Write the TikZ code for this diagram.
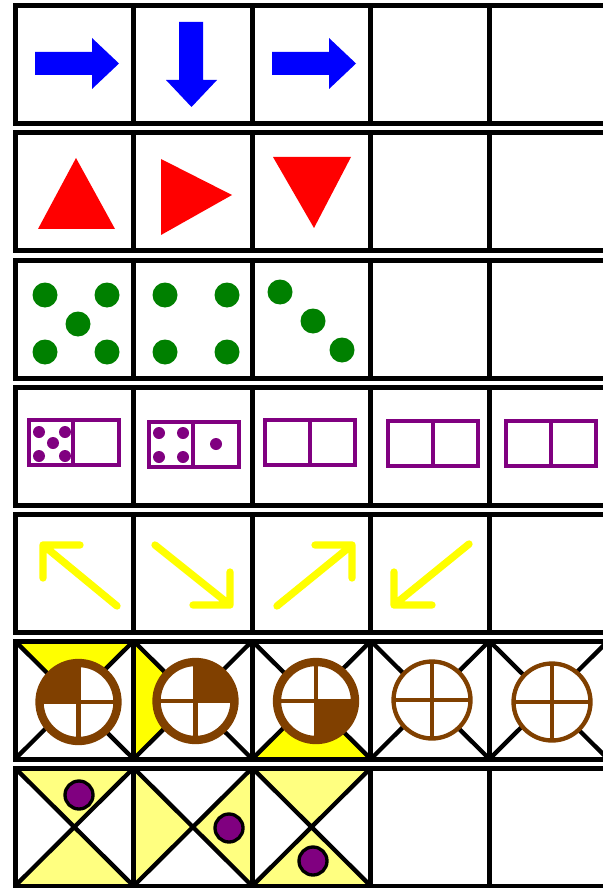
\documentclass[tikz,border=0pt]{standalone}
\usepackage{tikz}
\definecolor{arrowblue}{RGB}{0,0,255}
\definecolor{shapered}{RGB}{255,0,0}
\definecolor{dotgreen}{RGB}{0,128,0}
\definecolor{dominopurple}{RGB}{128,0,128}
\definecolor{signyellow}{RGB}{255,255,0}
\definecolor{paleyellow}{RGB}{255,255,128}
\definecolor{wheelbrown}{RGB}{128,64,0}

\begin{document}
\begin{tikzpicture}[x=0.3mm,y=-0.3mm,
  frame/.style={line width=1.5mm},
  diag/.style={line width=1.3mm},
  yarrow/.style={signyellow,line width=2.2mm,line cap=round,line join=round}]
  \useasboundingbox (0,0) rectangle (603,888);
  \clip (0,0) rectangle (603,888);
  % yellow triangles (rows 6 and 7)
  \fill[signyellow] (15,641) -- (133.6,641) -- (74.3,700) -- cycle;
  \fill[signyellow] (133.6,641) -- (133.6,759) -- (192.9,700) -- cycle;
  \fill[signyellow] (252.2,759) -- (370.8,759) -- (311.5,700) -- cycle;
  \fill[paleyellow] (15,768) -- (133.6,768) -- (74.3,827) -- cycle
                    (15,886) -- (133.6,886) -- (74.3,827) -- cycle;
  \fill[paleyellow] (133.6,768) -- (133.6,886) -- (192.9,827) -- cycle
                    (252.2,768) -- (252.2,886) -- (192.9,827) -- cycle;
  \fill[paleyellow] (252.2,768) -- (370.8,768) -- (311.5,827) -- cycle
                    (252.2,886) -- (370.8,886) -- (311.5,827) -- cycle;
  % the rows of cells
  \foreach \r in {0,...,6} {
    \pgfmathsetmacro{\ytop}{6+127*\r}
    \pgfmathsetmacro{\ybot}{124+127*\r}
    \draw[frame] (15,\ytop) rectangle (608,\ybot);
    \foreach \c in {1,...,4}
      \draw[frame] (15+118.6*\c,\ytop) -- (15+118.6*\c,\ybot);
  }
  \foreach \c in {0,...,4}
    \draw[diag] (15+118.6*\c,641) -- ++(118.6,118) (15+118.6*\c,759) -- ++(118.6,-118);
  \foreach \c in {0,...,2}
    \draw[diag] (15+118.6*\c,768) -- ++(118.6,118) (15+118.6*\c,886) -- ++(118.6,-118);
  % row 1: blue arrows
  \fill[arrowblue] (35,52) -- (92,52) -- (92,38) -- (119,63.5) -- (92,89) -- (92,75) -- (35,75) -- cycle;
  \fill[arrowblue] (179,22) -- (203,22) -- (203,80) -- (217,80) -- (191.5,107) -- (166,80) -- (179,80) -- cycle;
  \fill[arrowblue] (272,52) -- (329,52) -- (329,38) -- (356,63.5) -- (329,89) -- (329,75) -- (272,75) -- cycle;
  % row 2: red triangles
  \fill[shapered] (38,229) -- (115,229) -- (76,158) -- cycle;
  \fill[shapered] (161,159) -- (161,235) -- (232,195) -- cycle;
  \fill[shapered] (273,157) -- (351,157) -- (314,228) -- cycle;
  % row 3: green dots
  \foreach \x/\y in {45/295,107/295,78/324,45/352,107/352,
                     165/295,227/295,165/352,227/352,
                     280/292,313/321,342/350}
    \fill[dotgreen] (\x,\y) circle (12.5);
  % row 4: dominoes
  \foreach \x/\y/\m in {29/420/73,149/422/193,265/420/310,388/421/433,506/421/551}
    \draw[dominopurple,line width=1.4mm] (\x,\y) rectangle ++(90,45) (\m,\y) -- ++(0,45);
  \foreach \x/\y in {39/432,65/432,53/443,39/456,65/456,
                     159/433,183/433,159/457,183/457,216/444}
    \fill[dominopurple] (\x,\y) circle (6);
  % row 5: yellow arrows
  \draw[yarrow] (117,606) -- (43,545) (80,545) -- (43,545) -- (43,578);
  \draw[yarrow] (155,545) -- (230,605) (193,605) -- (230,605) -- (230,572);
  \draw[yarrow] (277,606) -- (352,545) (315,545) -- (352,545) -- (352,578);
  \draw[yarrow] (469,544) -- (394,605) (432,605) -- (394,605) -- (394,572);
  % row 6: wheels
  \foreach \x/\y/\a in {78.5/702/180,195.5/701/270,316/701/0} {
    \fill[white] (\x,\y) circle (39);
    \fill[wheelbrown] (\x,\y) -- ++(\a:39) arc[start angle=\a,end angle=\a+90,radius=39] -- cycle;
    \draw[wheelbrown,line width=1.3mm] (\x-39,\y) -- (\x+39,\y) (\x,\y-39) -- (\x,\y+39);
    \draw[wheelbrown,line width=2.5mm] (\x,\y) circle (39);
  }
  \foreach \x/\y in {432/700,552/702} {
    \fill[white] (\x,\y) circle (38.5);
    \draw[wheelbrown,line width=1.3mm] (\x-38.5,\y) -- (\x+38.5,\y) (\x,\y-38.5) -- (\x,\y+38.5);
    \draw[wheelbrown,line width=1.3mm] (\x,\y) circle (38.5);
  }
  % row 7: purple counters
  \foreach \x/\y in {79/795,229/828,313/861}
    \filldraw[fill=dominopurple,draw=black,line width=1mm] (\x,\y) circle (14);
\end{tikzpicture}
\end{document}
